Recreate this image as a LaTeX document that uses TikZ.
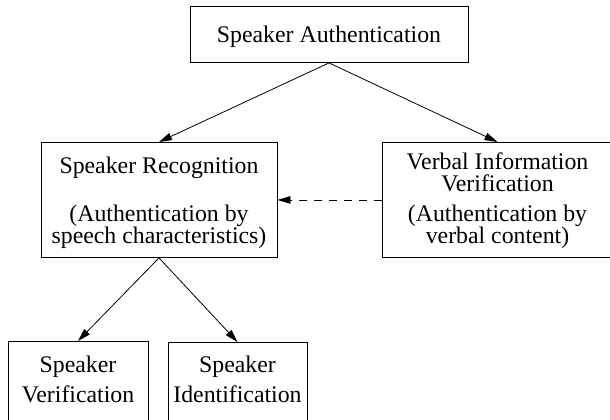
\documentclass[tikz,border=0pt]{standalone}
\usepackage{fontspec}
\setmainfont{Liberation Serif}
\usetikzlibrary{arrows.meta}
\tikzset{
box/.style={draw, line width=0.9pt, align=center, inner sep=0pt, anchor=north},
tree arrow/.style={line width=0.8pt, -{Triangle[length=13pt,width=7.5pt]}},
}

\begin{document}
\begin{tikzpicture}[x=1pt,y=-1pt,font=\fontsize{23.8}{22}\selectfont]
\useasboundingbox (0,0) rectangle (610,420);
\clip (0,0) rectangle (610,420);

\node[box, minimum width=278pt, text height=36pt, text depth=20pt] (SA) at (329,6) {Speaker Authentication};
\node[box, minimum width=236pt, text height=101pt, text depth=14pt] (SR) at (159,142) {Speaker Recognition\\[26pt](Authentication by\\speech characteristics)};
\node[box, minimum width=231pt, text height=101pt, text depth=14pt] (VIV) at (497.5,142) {Verbal Information\\Verification\\[8pt](Authentication by\\verbal content)};
\node[box, minimum width=140pt, text height=61pt, text depth=60pt] (SV) at (78,341) {Speaker\\[8pt]Verification};
\node[box, minimum width=139pt, text height=60pt, text depth=60pt] (SI) at (237.5,342) {Speaker\\[8pt]Identification};

\draw[tree arrow] (SA.south) -- (SR.north);
\draw[tree arrow] (SA.south) -- (VIV.north);
\draw[tree arrow, dash pattern=on 8pt off 7pt] (VIV.west) -- (SR.east);
\draw[tree arrow] (SR.south) -- (SV.north);
\draw[tree arrow] (SR.south) -- (SI.north);
\end{tikzpicture}
\end{document}
